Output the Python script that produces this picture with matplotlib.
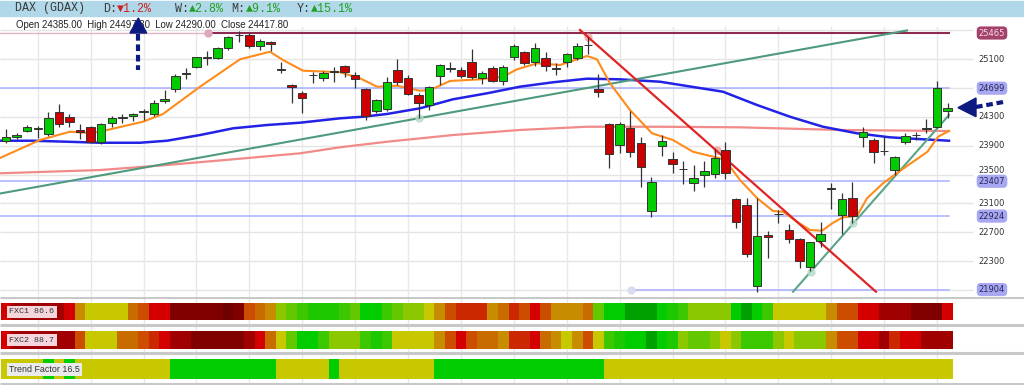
import matplotlib.pyplot as plt
from matplotlib.patches import Polygon, Rectangle

# ---- values (candle index 0..89, DAX points) ----
opens = [23970, 24016, 24100, 24137, 24058, 24373, 24294, 24123, 24160, 23952,
         24211, 24285, 24308, 24368, 24340, 24516, 24683, 24900, 24997, 25122,
         25122, 25252, 25432, 25437, 25284, 25340, 24955, 24743, 24636, 24877,
         24835, 24923, 25007, 24882, 24687, 24382, 24405, 24951, 24845, 24604,
         24465, 24868, 24970, 24951, 25057, 24835, 24983, 24798, 25136, 25196,
         25067, 25113, 24960, 25067, 25113, 25294, 24687, 24197, 23911, 24141,
         23933, 22999, 23900, 23712, 23573, 23388, 23494, 23508, 23841, 23156,
         23078, 21958, 22666, 22948, 22731, 22606, 22212, 22578, 23318, 22939,
         23170, 24026, 23979, 23823, 23564, 23956, 24044, 24137, 24155, 24385]
highs = [24132, 24072, 24188, 24174, 24363, 24474, 24340, 24201, 24174, 24211,
         24317, 24345, 24359, 24405, 24535, 24673, 24895, 24974, 25136, 25219,
         25275, 25423, 25492, 25460, 25377, 25353, 25067, 24757, 24664, 24928,
         24942, 24997, 25020, 24928, 24697, 24544, 24859, 25099, 24882, 24627,
         24729, 25034, 25067, 24997, 25238, 24942, 25011, 25020, 25312, 25219,
         25330, 25196, 25053, 25192, 25321, 25404, 24891, 24211, 24234, 24387,
         24026, 23471, 24049, 23818, 23693, 23633, 23693, 23850, 23957, 23170,
         23170, 23170, 22721, 23008, 22809, 22624, 22569, 22846, 23378, 23240,
         23402, 24164, 24002, 24035, 23763, 24072, 24095, 24271, 24798, 24497]
lows = [23942, 23998, 24086, 24003, 24035, 24164, 24155, 23993, 23938, 23919,
        24155, 24211, 24243, 24257, 24312, 24488, 24641, 24826, 24983, 25020,
        25104, 25229, 25344, 25261, 25229, 25219, 24905, 24498, 24350, 24766,
        24798, 24789, 24849, 24697, 24257, 24350, 24387, 24743, 24604, 24280,
        24396, 24743, 24928, 24835, 24822, 24757, 24784, 24743, 25090, 25020,
        25007, 24942, 24882, 24988, 25090, 25169, 24572, 23596, 23804, 23749,
        23332, 22916, 23758, 23517, 23365, 23277, 23332, 23448, 23434, 22754,
        22360, 21865, 22337, 22823, 22546, 22208, 22166, 22490, 23018, 22670,
        22832, 23878, 23665, 23772, 23494, 23924, 23979, 24072, 24141, 24290]
closes = [24026, 24044, 24160, 24141, 24289, 24197, 24229, 24086, 23952, 24197,
          24289, 24293, 24336, 24375, 24488, 24548, 24868, 24907, 25127, 25132,
          25252, 25404, 25438, 25289, 25353, 25307, 24962, 24710, 24558, 24884,
          24914, 24930, 24919, 24822, 24317, 24535, 24789, 24780, 24618, 24488,
          24720, 25020, 24977, 24868, 24849, 24914, 24798, 24997, 25284, 25053,
          25252, 25011, 24983, 25173, 25289, 25301, 24641, 23786, 24197, 23818,
          23601, 23402, 23970, 23647, 23580, 23448, 23554, 23725, 23517, 22846,
          22393, 22647, 22638, 22955, 22606, 22305, 22560, 22671, 23300, 23161,
          22925, 24086, 23818, 23830, 23739, 24040, 24051, 24144, 24697, 24418]

orange_x = [-0.57, 3.21, 6.05, 7.94, 8.88, 12.0, 12.95, 14.84, 18.34, 22.12, 24.95,
            26.18, 28.07, 31.57, 33.46, 35.07, 36.96, 39.13, 40.08, 41.97, 44.8,
            46.97, 48.3, 50.19, 52.36, 54.91, 55.86, 57.09, 58.98, 61.06, 63.04,
            64.93, 67.49, 68.15, 69.38, 70.98, 72.5, 73.44, 74.76, 75.99, 77.13,
            78.17, 79.11, 80.43, 81.38, 82.89, 84.78, 87.1, 88.1, 89.13]
orange_y = [23730, 23980, 24095, 24077, 24095, 24202, 24234, 24341, 24720, 25100, 25205,
            25090, 24942, 24920, 24836, 24720, 24734, 24664, 24674, 24799, 24822,
            24858, 24961, 25044, 25021, 25146, 25100, 24767, 24396, 24073, 23980,
            23817, 23726, 23665, 23425, 23175, 22994, 22985, 22846, 22731, 22721,
            22832, 22907, 22925, 23171, 23379, 23580, 23818, 24026, 24105]
blue_x = [-0.57, 2.55, 5.77, 8.88, 12.67, 15.22, 18.34, 21.46, 24.67, 27.79, 31.57,
          33.74, 36.01, 39.13, 42.25, 45.46, 48.58, 51.7, 54.91, 58.03, 61.81,
          67.77, 70.98, 74.1, 77.22, 80.43, 83.55, 86.67, 89.13]
blue_y = [23970, 23970, 23956, 23942, 23942, 23970, 24049, 24142, 24188, 24220, 24281,
          24303, 24341, 24420, 24545, 24628, 24720, 24781, 24831, 24822, 24789,
          24650, 24466, 24303, 24164, 24073, 24017, 23990, 23970]
pink_x = [-0.57, 8.88, 15.22, 21.46, 27.79, 31.57, 36.01, 42.25, 48.58, 54.91,
          61.81, 69.38, 78.83, 89.13]
pink_y = [23518, 23563, 23633, 23712, 23795, 23879, 23956, 24049, 24119, 24164,
          24164, 24156, 24119, 24105]

trend_long_x = [-0.57, 85.16]
trend_long_y = [23237, 25500]
trend_short_x = [74.39, 89.13]
trend_short_y = [21874, 24327]
trend_down_x = [54.25, 82.23]
trend_down_y = [25507, 21874]

levels = [25465, 24699, 23407, 22924, 21904]
level_start = [19.1, -0.6, -0.6, -0.6, 59.1]
tick_prices = [25100, 24300, 23900, 23500, 23100, 22700, 22300]
grid_prices = [21900, 22300, 22700, 23100, 23500, 23900, 24300, 24700, 25100, 25500]
vgrid = [3, 8, 13, 18, 23, 28, 33, 38, 43, 48, 53, 58, 63, 68, 73, 78, 83, 88]

fxc1 = ['R', 'DR', 'DR', 'DR', 'DR', 'DR', 'R', 'O3', 'Y', 'Y', 'Y', 'Y', 'O2', 'O1', 'R', 'R',
        'DR1', 'DR1', 'DR1', 'DR1', 'DR1', 'DR2', 'DR1', 'O1', 'O2', 'O3', 'YG', 'G1', 'G2', 'G3',
        'G3', 'G3', 'G2', 'G1', 'G', 'G', 'G2', 'G1', 'YG', 'YG', 'Y', 'O3', 'O1', 'RO', 'RO', 'RO',
        'O3', 'O2', 'RO', 'O1', 'R', 'O1', 'O3', 'O3', 'O3', 'O2', 'G1', 'G', 'G', 'DG', 'DG', 'DG',
        'G', 'G3', 'G2', 'YG', 'YG', 'YG', 'YG', 'G', 'DG', 'G', 'G2', 'Y', 'Y', 'Y', 'Y', 'Y',
        'O3', 'O1', 'O1', 'R', 'R', 'DR', 'DR', 'DR', 'DR1', 'DR1', 'DR1', 'R']
fxc2 = ['R', 'DR', 'DR', 'DR', 'DR', 'DR', 'DR', 'O1', 'Y', 'Y', 'Y', 'O2', 'O2', 'O1', 'RO', 'R',
        'DR', 'DR', 'DR1', 'DR1', 'DR1', 'DR1', 'DR1', 'DR', 'R', 'O2', 'Y', 'G1', 'G', 'G', 'G2',
        'YG', 'YG', 'YG', 'G2', 'G3', 'G2', 'Y', 'Y', 'Y', 'Y', 'O3', 'O1', 'R', 'O1', 'O2', 'O2',
        'O3', 'RO', 'RO', 'R', 'O2', 'O3', 'Y', 'O3', 'O1', 'Y', 'G2', 'G3', 'G', 'G', 'DG', 'G',
        'G3', 'YG', 'G1', 'G1', 'YG', 'Y', 'YG', 'G2', 'G2', 'G2', 'YG', 'Y', 'YG', 'YG', 'YG',
        'O3', 'O1', 'O1', 'R', 'R', 'DR', 'RO', 'R', 'R', 'DR', 'DR', 'DR']
trend = ['Y', 'Y', 'Y', 'Y', 'G', 'Y', 'G', 'Y', 'Y', 'Y', 'Y', 'Y', 'Y', 'Y', 'Y', 'Y',
         'G', 'G', 'G', 'G', 'G', 'G', 'G', 'G', 'G', 'G', 'Y', 'Y', 'Y', 'Y', 'Y', 'G',
         'Y', 'Y', 'Y', 'Y', 'Y', 'Y', 'Y', 'Y', 'Y', 'G', 'G', 'G', 'G', 'G', 'G', 'G',
         'G', 'G', 'G', 'G', 'G', 'G', 'G', 'G', 'G', 'Y', 'Y', 'Y', 'Y', 'Y', 'Y', 'Y',
         'Y', 'Y', 'Y', 'Y', 'Y', 'Y', 'Y', 'Y', 'Y', 'Y', 'Y', 'Y', 'Y', 'Y', 'Y', 'Y',
         'Y', 'Y', 'Y', 'Y', 'Y', 'Y', 'Y', 'Y', 'Y', 'Y']

pal = {'DR2': '#700000', 'DR1': '#800000', 'DR': '#a00000', 'R': '#d40000',
       'RO': '#cc2800', 'O1': '#cc4c00', 'O2': '#c86c00', 'O3': '#c88c00',
       'Y': '#c8c800', 'YG': '#8cc800', 'G1': '#64c800', 'G2': '#3cc800',
       'G3': '#1ec800', 'G': '#00cc00', 'DG': '#00a000'}

# ---- layout ----
fig = plt.figure(figsize=(10.24, 3.85), dpi=100)
X0, DX = 6.0, 10.58
xl = (-X0 / DX, (1024 - X0) / DX)
idx = list(range(len(opens)))

ax = fig.add_axes([0, 1 - 297 / 385, 1, 281 / 385])
ax.set_xlim(xl)
ax.set_ylim(21801, 25701)
ax.axis('off')

ax.hlines(grid_prices, xl[0], 91.4, color='#e4e4e4', lw=1, zorder=0)
ax.vlines(vgrid, 21801, 25560, color='#e8e8e8', lw=1, zorder=0)

# level lines
for lv, st in zip(levels, level_start):
    col = '#8c2a52' if lv == levels[0] else '#a8b0ff'
    ax.plot([st, 89.1], [lv, lv], color=col, lw=1.5 if lv == levels[0] else 1.1, zorder=1)
ax.plot([-0.6, 19.1], [levels[0], levels[0]], color='#e2b4c4', lw=1, zorder=1)
ax.plot(19.1, levels[0], 'o', ms=5, color='#e0a8bc', zorder=2)
ax.plot(59.1, levels[4], 'o', ms=5, color='#d8dcf0', zorder=2)

# moving averages
ax.plot(pink_x, pink_y, color='#f28a8a', lw=1.6, zorder=2)
ax.plot(blue_x, blue_y, color='#2222e6', lw=1.8, zorder=2)
ax.plot(orange_x, orange_y, color='#ff8c1a', lw=1.5, zorder=3)

# trend lines
ax.plot(trend_long_x, trend_long_y, color='#4e9a7c', lw=1.5, zorder=2)
ax.plot(trend_short_x, trend_short_y, color='#5aa488', lw=1.5, zorder=2)
ax.plot(trend_down_x, trend_down_y, color='#e02424', lw=1.6, zorder=3)
ax.plot([39, 76.1, 80.1], [24281, 22152, 22832], 'o', ms=5, color='#b8dcc8', alpha=0.8, zorder=2)
ax.plot([55.05, 67.2], [25414, 23841], 'o', ms=5, color='#f4a4a4', alpha=0.8, zorder=2)

# candles
ax.vlines(idx, lows, highs, color='#333333', lw=0.9, zorder=4)
bottoms = [min(o, c) for o, c in zip(opens, closes)]
heights = [max(abs(c - o), 8) for o, c in zip(opens, closes)]
colors = ['#00cc00' if c > o else '#cc0000' for o, c in zip(opens, closes)]
ax.bar(idx, heights, bottom=bottoms, width=0.8, color=colors,
       edgecolor='#333333', lw=0.7, zorder=5)

# right-hand price labels (23500 sits just above the 23407 tag, as in the source)
lx = (992 - X0) / DX
for p in tick_prices:
    ax.text(lx, p, str(p), ha='center', va='bottom' if p == 23500 else 'center',
            fontsize=6, color='#333333', clip_on=False, zorder=6)
for lv in levels:
    if lv == levels[0]:
        box, tc = '#a4426c', '#f4dce4'
    else:
        box, tc = '#a8a8f2', '#26265a'
    ax.text(lx, lv, str(lv), ha='center', va='center', fontsize=6, color=tc,
            clip_on=False, zorder=7,
            bbox=dict(boxstyle='round,pad=0.25,rounding_size=0.5', fc=box, ec='none'))

# ---- indicator strips ----
ind = fig.add_axes([0, 0, 1, 88 / 385])
ind.set_xlim(xl)
ind.set_ylim(385, 297)
ind.axis('off')
ind.vlines(vgrid, 297, 385, color='#e8e8e8', lw=1, zorder=0)
ind.hlines([297.0, 324.7, 352.7, 383.6], xl[0], xl[1], color='#c8c8c8', lw=2.2, zorder=1)
ind.bar(idx, 16.7, bottom=303.3, width=1.0, color=[pal[c] for c in fxc1], lw=0, zorder=2)
ind.bar(idx, 18.6, bottom=330.7, width=1.0, color=[pal[c] for c in fxc2], lw=0, zorder=2)
ind.bar(idx, 20.0, bottom=359.3, width=1.0, color=[pal[c] for c in trend], lw=0, zorder=2)

# ---- overlay in pixel units ----
ov = fig.add_axes([0, 0, 1, 1])
ov.set_xlim(0, 1024)
ov.set_ylim(385, 0)
ov.axis('off')
ov.patch.set_alpha(0)

ov.add_patch(Rectangle((0, 1), 1024, 14.5, color='#b0d8e8', zorder=1))
mono = ['Liberation Mono', 'DejaVu Sans Mono']
head = [(15, 'DAX (GDAX)', '#3a3a3a'), (103.3, 'D:', '#3a3a3a'), (117, '\u25bc1.2%', '#cc2222'),
        (175, 'W:', '#3a3a3a'), (189, '\u25b22.8%', '#22a022'), (231.7, 'M:', '#3a3a3a'),
        (245.5, '\u25b29.1%', '#22a022'), (296.7, 'Y:', '#3a3a3a'), (310.5, '\u25b215.1%', '#22a022')]
for x, s, c in head:
    ov.text(x, 8.5, s, family=mono, fontsize=8.4, color=c, va='center', ha='left', zorder=2)

ov.text(16, 24.5, 'Open 24385.00  High 24497.30  Low 24290.00  Close 24417.80',
        family='Liberation Sans', fontsize=6.9, color='#222222', va='center', ha='left', zorder=2)

navy = '#0d1a80'
ov.add_patch(Polygon([(130, 33), (146.7, 33), (138.3, 18)], closed=True, color=navy, zorder=3))
ov.plot([138.3, 138.3], [34, 70], color=navy, lw=3, ls=(0, (1.6, 0.9)), zorder=3)
ov.add_patch(Polygon([(958, 107.7), (976, 98), (976, 116.7)], closed=True, color=navy, zorder=3))
ov.plot([976, 1006], [107, 101.5], color=navy, lw=3, ls=(0, (1.6, 0.9)), zorder=3)

ov.text(9, 311.7, 'FXC1 86.6', family=mono, fontsize=6, color='#333333', va='center', zorder=3,
        bbox=dict(boxstyle='square,pad=0.3', fc='#f4d6dc', ec='none'))
ov.text(9, 340, 'FXC2 88.7', family=mono, fontsize=6, color='#333333', va='center', zorder=3,
        bbox=dict(boxstyle='square,pad=0.3', fc='#f4d6dc', ec='none'))
ov.text(9, 369.3, 'Trend Factor 16.5', family='Liberation Sans', fontsize=6.4, color='#333333',
        va='center', zorder=3, bbox=dict(boxstyle='square,pad=0.25', fc='#eaeaea', ec='none'))

fig.savefig('out.png', dpi=100)
